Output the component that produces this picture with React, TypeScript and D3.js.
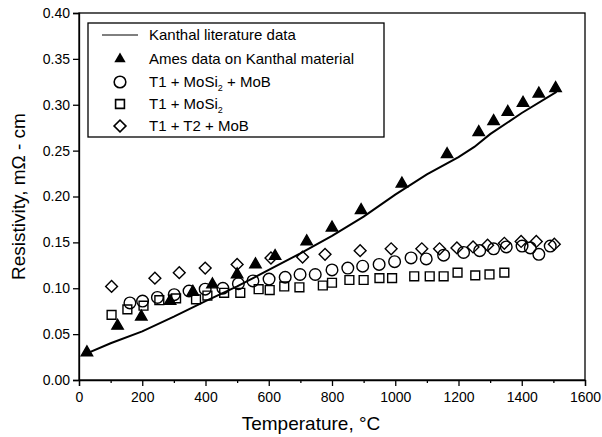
import { useEffect, useRef } from 'react';
import * as d3 from 'd3';

// Kanthal literature curve
const litTemp = [25, 100, 200, 300, 400, 500, 600, 700, 800, 900, 1000, 1100, 1200, 1250, 1300, 1400, 1510];
const litRes = [0.029, 0.040, 0.053, 0.069, 0.086, 0.102, 0.120, 0.138, 0.157, 0.178, 0.202, 0.224, 0.243, 0.254, 0.268, 0.291, 0.314];

// Ames data on Kanthal material
const amesTemp = [25, 122, 197, 288, 360, 422, 500, 558, 620, 720, 800, 892, 1021, 1164, 1264, 1311, 1356, 1404, 1454, 1507];
const amesRes = [0.030, 0.059, 0.069, 0.086, 0.096, 0.104, 0.115, 0.126, 0.135, 0.151, 0.166, 0.185, 0.214, 0.246, 0.270, 0.282, 0.292, 0.302, 0.312, 0.318];

// T1 + MoSi2 + MoB
const circTemp = [161, 201, 248, 301, 348, 399, 455, 504, 550, 601, 652, 699, 747, 800, 850, 897, 949, 998, 1050, 1098, 1153, 1216, 1267, 1311, 1351, 1401, 1427, 1454, 1490];
const circRes = [0.084, 0.086, 0.090, 0.093, 0.097, 0.099, 0.100, 0.105, 0.108, 0.110, 0.112, 0.115, 0.115, 0.120, 0.122, 0.124, 0.126, 0.129, 0.133, 0.132, 0.136, 0.139, 0.141, 0.143, 0.145, 0.146, 0.144, 0.137, 0.146];

// T1 + MoSi2
const sqTemp = [103, 153, 204, 254, 307, 370, 406, 459, 510, 568, 603, 649, 697, 771, 800, 855, 900, 950, 990, 1060, 1109, 1153, 1197, 1253, 1298, 1345];
const sqRes = [0.071, 0.077, 0.081, 0.087, 0.089, 0.088, 0.092, 0.095, 0.095, 0.099, 0.098, 0.102, 0.101, 0.103, 0.106, 0.109, 0.109, 0.111, 0.111, 0.113, 0.113, 0.113, 0.117, 0.114, 0.115, 0.117];

// T1 + T2 + MoB
const diaTemp = [103, 240, 317, 399, 500, 607, 707, 778, 889, 987, 1084, 1140, 1195, 1246, 1292, 1345, 1398, 1446, 1503];
const diaRes = [0.102, 0.111, 0.117, 0.122, 0.126, 0.133, 0.134, 0.137, 0.141, 0.143, 0.143, 0.143, 0.144, 0.145, 0.147, 0.149, 0.151, 0.151, 0.148];

const xTicks = [0, 200, 400, 600, 800, 1000, 1200, 1400, 1600];
const xMinor = [100, 300, 500, 700, 900, 1100, 1300, 1500];
const yTicks = [0, 0.05, 0.1, 0.15, 0.2, 0.25, 0.3, 0.35, 0.4];

const FONT = '"Liberation Sans", Arial, Helvetica, sans-serif';

const App = () => {
  const svgRef = useRef<SVGSVGElement>(null);

  useEffect(() => {
    const width = 602;
    const height = 437;
    const margin = { top: 13, right: 17, bottom: 57, left: 79 };

    const x = d3.scaleLinear().domain([0, 1600]).range([margin.left, width - margin.right]);
    const y = d3.scaleLinear().domain([0, 0.4]).range([height - margin.bottom, margin.top]);

    const svg = d3.select(svgRef.current);
    svg.selectAll('*').remove();
    svg.attr('width', width).attr('height', height).style('font-family', FONT);

    // frame
    svg.append('rect')
      .attr('x', x(0)).attr('y', y(0.4))
      .attr('width', x(1600) - x(0)).attr('height', y(0) - y(0.4))
      .attr('fill', 'none').attr('stroke', '#000').attr('stroke-width', 1.3);

    // x axis
    const gx = svg.append('g')
      .attr('transform', `translate(0, ${y(0)})`)
      .call(d3.axisBottom(x).tickValues(xTicks).tickSize(6).tickPadding(6).tickFormat(d3.format('d')));
    gx.select('.domain').attr('stroke-width', 1.3);
    gx.selectAll('.tick line').attr('stroke-width', 1.3);
    gx.selectAll('text').attr('font-size', 14).attr('font-family', FONT).attr('fill', '#000');

    const gxm = svg.append('g')
      .attr('transform', `translate(0, ${y(0)})`)
      .call(d3.axisBottom(x).tickValues(xMinor).tickSize(3).tickFormat(() => ''));
    gxm.select('.domain').remove();
    gxm.selectAll('.tick line').attr('stroke-width', 1.3);

    // y axis
    const gy = svg.append('g')
      .attr('transform', `translate(${x(0)}, 0)`)
      .call(d3.axisLeft(y).tickValues(yTicks).tickSize(6).tickPadding(3).tickFormat(d3.format('.2f')));
    gy.select('.domain').attr('stroke-width', 1.3);
    gy.selectAll('.tick line').attr('stroke-width', 1.3);
    gy.selectAll('text').attr('font-size', 14).attr('font-family', FONT).attr('fill', '#000');

    // axis titles
    svg.append('text')
      .attr('x', 311).attr('y', 430)
      .attr('text-anchor', 'middle')
      .attr('font-size', 19)
      .text('Temperature, °C');

    svg.append('text')
      .attr('transform', `translate(25, ${(y(0) + y(0.4)) / 2}) rotate(-90)`)
      .attr('text-anchor', 'middle')
      .attr('font-size', 19)
      .text('Resistivity, mΩ - cm');

    // literature line
    const line = d3.line<number>()
      .x((_, i) => x(litTemp[i]))
      .y(d => y(d));
    svg.append('path')
      .datum(litRes)
      .attr('fill', 'none')
      .attr('stroke', '#000')
      .attr('stroke-width', 2)
      .attr('d', line);

    const tri = d3.symbol().type(d3.symbolTriangle).size(56);
    const circ = d3.symbol().type(d3.symbolCircle).size(106);
    const sq = d3.symbol().type(d3.symbolSquare).size(78);
    const dia = d3.symbol().type(d3.symbolSquare).size(70);

    const drawSeries = (
      temps: number[], vals: number[], path: string, fill: string, rotate = 0
    ) => {
      svg.append('g').selectAll('path')
        .data(vals)
        .join('path')
        .attr('transform', (d, i) => `translate(${x(temps[i])}, ${y(d)}) rotate(${rotate})`)
        .attr('d', path)
        .attr('fill', fill)
        .attr('stroke', '#000')
        .attr('stroke-width', 1.4);
    };

    drawSeries(amesTemp, amesRes, tri()!, '#000');
    drawSeries(circTemp, circRes, circ()!, 'none');
    drawSeries(sqTemp, sqRes, sq()!, 'none');
    drawSeries(diaTemp, diaRes, dia()!, 'none', 45);

    // legend
    const lg = svg.append('g');
    lg.append('rect')
      .attr('x', 88).attr('y', 23).attr('width', 296).attr('height', 114)
      .attr('fill', '#fff').attr('stroke', '#000').attr('stroke-width', 1.3);

    const rows = [35, 59, 82, 104, 126];
    const symX = 120;
    const textX = 149;

    lg.append('line')
      .attr('x1', 102).attr('x2', 138).attr('y1', rows[0]).attr('y2', rows[0])
      .attr('stroke', '#000').attr('stroke-width', 1);
    lg.append('path').attr('d', tri()!).attr('transform', `translate(${symX}, ${rows[1]})`).attr('fill', '#000');
    lg.append('path').attr('d', circ()!).attr('transform', `translate(${symX}, ${rows[2]})`)
      .attr('fill', 'none').attr('stroke', '#000').attr('stroke-width', 1.6);
    lg.append('path').attr('d', sq()!).attr('transform', `translate(${symX}, ${rows[3]})`)
      .attr('fill', 'none').attr('stroke', '#000').attr('stroke-width', 1.6);
    lg.append('path').attr('d', dia()!).attr('transform', `translate(${symX}, ${rows[4]}) rotate(45)`)
      .attr('fill', 'none').attr('stroke', '#000').attr('stroke-width', 1.6);

    const label = (row: number) => lg.append('text')
      .attr('x', textX).attr('y', rows[row] + 5).attr('font-size', 15);

    label(0).text('Kanthal literature data');
    label(1).text('Ames data on Kanthal material');
    const t2 = label(2);
    t2.append('tspan').text('T1 + MoSi');
    t2.append('tspan').attr('font-size', 9).attr('dy', 4).text('2');
    t2.append('tspan').attr('dy', -4).text(' + MoB');
    const t3 = label(3);
    t3.append('tspan').text('T1 + MoSi');
    t3.append('tspan').attr('font-size', 9).attr('dy', 4).text('2');
    label(4).text('T1 + T2 + MoB');
  }, []);

  return (
    <svg ref={svgRef} style={{ position: 'absolute', left: 0, top: 0, background: '#fff' }}></svg>
  );
};

export default App;
